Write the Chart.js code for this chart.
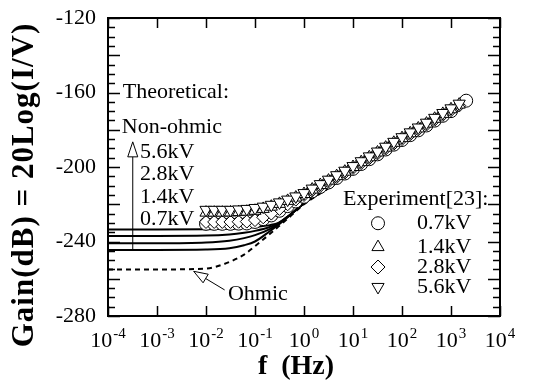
<!DOCTYPE html>
<html>
<head>
<meta charset="utf-8">
<script src="https://cdn.jsdelivr.net/npm/chart.js@4"></script>
<style>
  html, body { margin: 0; padding: 0; background: #fff; }
  canvas { display: block; }
</style>
</head>
<body>
<canvas id="gainChart" width="543" height="385" style="width:543px;height:385px"></canvas>
<script>
// theoretical curves (frequency in Hz, gain in dB)
const freqTheory = [1e-4, 1e-3, 1e-2, 0.03, 0.06, 0.1, 0.2, 0.3, 0.5, 1, 3, 10, 30, 100, 300, 1000, 1600];
const theory56 = [-233.5, -233.5, -233.4, -233.1, -232.7, -232.2, -231.2, -230, -226, -219.5, -211.5, -202.5, -194.5, -186.5, -179, -171, -167.5];
const theory28 = [-237, -237, -236.8, -236.2, -235.3, -234.3, -232.2, -230.2, -226, -219.5, -211.5, -202.5, -194.5, -186.5, -179, -171, -167.5];
const theory14 = [-241, -241, -240.6, -239.6, -238.2, -236.6, -233.3, -230.5, -226, -219.5, -211.5, -202.5, -194.5, -186.5, -179, -171, -167.5];
const theory07 = [-244.5, -244.5, -244.3, -243.6, -242, -240, -234.5, -231, -226.2, -219.5, -211.5, -202.5, -194.5, -186.5, -179, -171, -167.5];
const ohmic = [-255, -255, -254.5, -251, -247, -242.5, -236, -232, -227, -220, -211.8, -202.5, -194.5, -186.5, -179, -171, -167.5];

// experiment [23]
const freqExp = [0.01, 0.0147, 0.0215, 0.0316, 0.0464, 0.0681, 0.1, 0.147, 0.215, 0.316, 0.464, 0.681,
  1, 1.47, 2.15, 3.16, 4.64, 6.81, 10, 14.7, 21.5, 31.6, 46.4, 68.1, 100, 147, 215, 316, 464, 681, 1000, 1470];
const exp56 = [-223, -223, -223, -223, -222.8, -222.5, -222, -221.3, -220.3, -219, -217.5, -215.8,
  -214, -211.6, -209.2, -206.8, -204.4, -202, -199.5, -196.9, -194.3, -191.7, -189.1, -186.5, -184, -181.4, -178.8, -176.2, -173.6, -171, -168.5, -166];
const exp14 = [-224.5, -224.5, -224.5, -224.4, -224.2, -224, -223.5, -222.5, -221.3, -219.8, -218.2, -216.4,
  -214.5, -212.1, -209.7, -207.3, -204.9, -202.5, -200, -197.4, -194.8, -192.2, -189.6, -187, -184.5, -181.9, -179.3, -176.7, -174.1, -171.5, -169, -166.5];
const exp28 = [-229.5, -229.5, -229.5, -229.5, -229.4, -229.3, -228.5, -227, -225, -222.5, -220, -217.5,
  -215, -212.6, -210.2, -207.8, -205.4, -203, -200.5, -197.9, -195.3, -192.7, -190.1, -187.5, -185, -182.4, -179.8, -177.2, -174.6, -172, -169.5, -167];
const freqCircle = [0.01, 0.0147, 0.0215, 0.0316, 0.0464, 0.0681, 0.1, 0.147, 0.215, 0.316, 0.464, 0.681,
  1, 1.47, 2.15, 3.16, 4.64, 6.81, 10, 14.7, 21.5, 31.6, 46.4, 68.1, 100, 147, 215, 316, 464, 681, 1000, 2040];
const exp07 = [-230.5, -230.5, -230.5, -230.5, -230.4, -230.3, -229.5, -228, -226, -223.5, -221, -218.5,
  -216, -213.1, -210.7, -208.3, -205.9, -203.5, -201, -198.4, -195.8, -193.2, -190.6, -188, -185.5, -182.9, -180.3, -177.7, -175.1, -172.5, -170, -164.4];

const yTickLabels = [-280, -240, -200, -160, -120];
const xTickExps = [-4, -3, -2, -1, 0, 1, 2, 3, 4];
const legendLabels = ['0.7kV', '1.4kV', '2.8kV', '5.6kV'];
const theoryLabels = ['5.6kV', '2.8kV', '1.4kV', '0.7kV'];

const SERIF = "'Liberation Serif', 'Times New Roman', serif";

function pts(xs, ys) {
  return xs.map((x, i) => ({ x: x, y: ys[i] }));
}

function lineSet(ys, dashed) {
  return {
    data: pts(freqTheory, ys),
    showLine: true,
    borderColor: '#000',
    borderWidth: 2,
    borderDash: dashed ? [5, 4] : [],
    pointRadius: 0,
    cubicInterpolationMode: 'monotone',
    order: 2
  };
}

function markerSet(xs, ys, style, rot, r) {
  return {
    data: pts(xs, ys),
    showLine: false,
    pointStyle: style,
    rotation: rot || 0,
    pointRadius: r,
    pointBackgroundColor: '#fff',
    pointBorderColor: '#000',
    pointBorderWidth: 1,
    order: 1
  };
}

function drawMarker(ctx, kind, x, y, r) {
  ctx.beginPath();
  if (kind === 'circle') {
    ctx.arc(x, y, r, 0, Math.PI * 2);
  } else if (kind === 'up') {
    ctx.moveTo(x, y - r); ctx.lineTo(x + r * 0.87, y + r * 0.5); ctx.lineTo(x - r * 0.87, y + r * 0.5); ctx.closePath();
  } else if (kind === 'down') {
    ctx.moveTo(x, y + r); ctx.lineTo(x + r * 0.87, y - r * 0.5); ctx.lineTo(x - r * 0.87, y - r * 0.5); ctx.closePath();
  } else {
    ctx.moveTo(x, y - r); ctx.lineTo(x + r, y); ctx.lineTo(x, y + r); ctx.lineTo(x - r, y); ctx.closePath();
  }
  ctx.fillStyle = '#fff';
  ctx.fill();
  ctx.stroke();
}

function openArrow(ctx, x1, y1, x2, y2, headLen, headW) {
  const ang = Math.atan2(y2 - y1, x2 - x1);
  const bx = x2 - Math.cos(ang) * headLen, by = y2 - Math.sin(ang) * headLen;
  ctx.beginPath();
  ctx.moveTo(x1, y1); ctx.lineTo(bx, by);
  ctx.stroke();
  const nx = -Math.sin(ang) * headW, ny = Math.cos(ang) * headW;
  ctx.beginPath();
  ctx.moveTo(x2, y2); ctx.lineTo(bx + nx, by + ny); ctx.lineTo(bx - nx, by - ny); ctx.closePath();
  ctx.fillStyle = '#fff';
  ctx.fill();
  ctx.stroke();
  ctx.fillStyle = '#000';
}

const notes = {
  id: 'notes',
  beforeDatasetsDraw(chart) {
    const ctx = chart.ctx, xs = chart.scales.x, ys = chart.scales.y;
    ctx.save();
    ctx.fillStyle = '#000';
    ctx.font = '22px ' + SERIF;
    ctx.textBaseline = 'middle';
    ctx.textAlign = 'left';
    const lx = xs.getPixelForValue(2.0e-4);
    ctx.fillText('Theoretical:', lx, ys.getPixelForValue(-160));
    ctx.fillText('Non-ohmic', lx - 1, ys.getPixelForValue(-178.5));
    const vx = xs.getPixelForValue(4.5e-4);
    theoryLabels.forEach((t, i) => {
      ctx.fillText(t, vx, ys.getPixelForValue(-192 - i * 12));
    });
    ctx.strokeStyle = '#000';
    ctx.lineWidth = 1;
    const ax = xs.getPixelForValue(3.2e-4);
    openArrow(ctx, ax, ys.getPixelForValue(-245), ax, ys.getPixelForValue(-186.5), 15, 5);
    ctx.fillText('Ohmic', xs.getPixelForValue(0.028), ys.getPixelForValue(-268.5));
    openArrow(ctx, xs.getPixelForValue(0.024), ys.getPixelForValue(-266),
      xs.getPixelForValue(0.0056), ys.getPixelForValue(-256), 14, 5);
    ctx.restore();
  },
  afterDatasetsDraw(chart) {
    const ctx = chart.ctx, xs = chart.scales.x, ys = chart.scales.y, a = chart.chartArea;
    ctx.save();
    ctx.strokeStyle = '#000';
    ctx.fillStyle = '#000';
    // frame
    ctx.lineWidth = 2;
    ctx.strokeRect(a.left, a.top, a.right - a.left, a.bottom - a.top);
    // x ticks (inward, top and bottom)
    ctx.lineWidth = 1.5;
    xTickExps.forEach(e => {
      const px = Math.round(xs.getPixelForValue(Math.pow(10, e))) + 0.5;
      ctx.beginPath();
      ctx.moveTo(px, a.bottom); ctx.lineTo(px, a.bottom - 10);
      ctx.moveTo(px, a.top); ctx.lineTo(px, a.top + 10);
      ctx.stroke();
    });
    // y ticks (inward, left and right)
    for (let v = -280; v <= -120; v += 5) {
      const py = Math.round(ys.getPixelForValue(v)) + 0.5;
      const len = (v % 20 === 0) ? 12 : 7;
      ctx.beginPath();
      ctx.moveTo(a.left, py); ctx.lineTo(a.left + len, py);
      ctx.moveTo(a.right, py); ctx.lineTo(a.right - len, py);
      ctx.stroke();
    }
    // y tick labels
    ctx.font = '22px ' + SERIF;
    ctx.textAlign = 'right';
    ctx.textBaseline = 'middle';
    yTickLabels.forEach(v => {
      ctx.fillText(String(v), a.left - 12, ys.getPixelForValue(v));
    });
    // x tick labels 10^n
    ctx.textBaseline = 'alphabetic';
    ctx.textAlign = 'left';
    xTickExps.forEach(e => {
      const px = xs.getPixelForValue(Math.pow(10, e));
      const expTxt = e < 0 ? '-' + Math.abs(e) : String(e);
      ctx.font = '22px ' + SERIF;
      const wb = ctx.measureText('10').width;
      ctx.font = '15px ' + SERIF;
      const we = ctx.measureText(expTxt).width;
      const x0 = px - (wb + we + 1) / 2;
      ctx.font = '22px ' + SERIF;
      ctx.fillText('10', x0, a.bottom + 31);
      ctx.font = '15px ' + SERIF;
      ctx.fillText(expTxt, x0 + wb + 1, a.bottom + 22);
    });
    // axis titles
    ctx.font = 'bold 28px ' + SERIF;
    ctx.textAlign = 'center';
    ctx.textBaseline = 'middle';
    ctx.fillText('f  (Hz)', 296, 367);
    ctx.save();
    ctx.translate(25, 185);
    ctx.rotate(-Math.PI / 2);
    ctx.font = 'bold 31px ' + SERIF;
    ctx.letterSpacing = '1px';
    ctx.fillText('Gain(dB) = 20Log(I/V)', 0, 0);
    ctx.restore();
    // experiment legend
    ctx.font = '22px ' + SERIF;
    ctx.textAlign = 'left';
    ctx.textBaseline = 'middle';
    ctx.fillText('Experiment[23]:', a.right - 157, ys.getPixelForValue(-217.5));
    const kinds = ['circle', 'up', 'diamond', 'down'];
    const rowY = [-230.2, -243, -253.7, -264.4];
    ctx.lineWidth = 1;
    kinds.forEach((k, i) => {
      const py = ys.getPixelForValue(rowY[i]);
      drawMarker(ctx, k, a.right - 122, py, k === 'circle' ? 6.5 : 7);
      ctx.fillStyle = '#000';
      ctx.fillText(legendLabels[i], a.right - 83, py);
    });
    ctx.restore();
  }
};

new Chart(document.getElementById('gainChart'), {
  type: 'scatter',
  data: {
    datasets: [
      markerSet(freqExp, exp56, 'triangle', 180, 7),
      markerSet(freqExp, exp14, 'triangle', 0, 7),
      markerSet(freqExp, exp28, 'rectRot', 0, 6.5),
      markerSet(freqCircle, exp07, 'circle', 0, 6.5),
      lineSet(theory56, false),
      lineSet(theory28, false),
      lineSet(theory14, false),
      lineSet(theory07, false),
      lineSet(ohmic, true)
    ]
  },
  options: {
    responsive: false,
    animation: false,
    devicePixelRatio: 1,
    layout: { padding: { top: 18, right: 43, left: 0, bottom: 0 } },
    plugins: { legend: { display: false }, tooltip: { enabled: false } },
    scales: {
      x: {
        type: 'logarithmic', min: 1e-4, max: 1e4,
        ticks: { display: false }, grid: { display: false }, border: { display: false },
        afterFit(s) { s.height = 69; }
      },
      y: {
        min: -280, max: -120,
        ticks: { display: false }, grid: { display: false }, border: { display: false },
        afterFit(s) { s.width = 108; }
      }
    }
  },
  plugins: [notes]
});
</script>
</body>
</html>
